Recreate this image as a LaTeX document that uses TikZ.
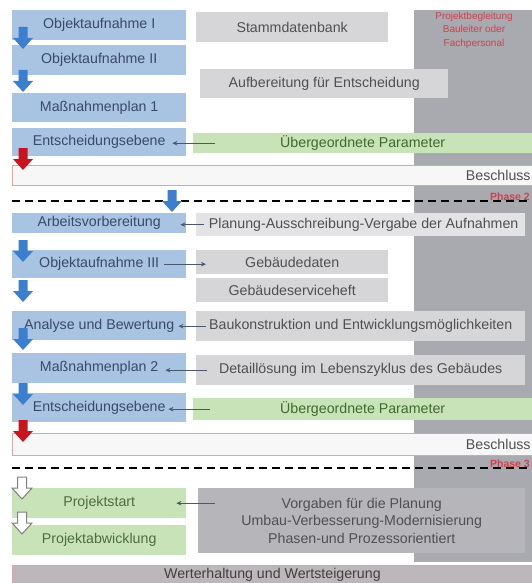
\documentclass[tikz,border=0pt]{standalone}
\usepackage{fontspec}
\setmainfont{Liberation Sans}
\usetikzlibrary{arrows.meta}

\definecolor{boxblue}{HTML}{A9C3E3}
\definecolor{bluetext}{HTML}{3A4A68}
\definecolor{arrowblue}{HTML}{3D7FCF}
\definecolor{boxgray}{HTML}{D6D6D8}
\definecolor{lightgray}{HTML}{E3E3E5}
\definecolor{darkgray}{HTML}{B6B6BA}
\definecolor{columngray}{HTML}{A8AAAF}
\definecolor{graytext}{HTML}{505050}
\definecolor{boxgreen}{HTML}{C9E3B8}
\definecolor{greentext}{HTML}{3E6A2E}
\definecolor{arrowred}{HTML}{C8141E}
\definecolor{pinkline}{HTML}{E2A0A8}
\definecolor{redtext}{HTML}{D0404E}
\definecolor{connline}{HTML}{4A5870}

\tikzset{
  blockarrow/.pic={
    \path[pic actions] (-4.5,0) -- (4.5,0) -- (4.5,11) -- (10,11) -- (0,22)
      -- (-10,11) -- (-4.5,11) -- cycle;
  }
}

\begin{document}
\begin{tikzpicture}[x=1pt,y=-1pt,
    box/.style={anchor=north west, inner sep=0pt, font=\fontsize{14.2}{16}\selectfont},
    bluebox/.style={box, fill=boxblue, text=bluetext, minimum width=174pt},
    graybox/.style={box, fill=boxgray, text=graytext},
    greenbox/.style={box, fill=boxgreen, text=greentext},
    bar/.style={box, draw=pinkline, line width=0.8pt, minimum width=520pt},
    conn/.style={connline, line width=0.9pt, -{Stealth[length=5pt,width=4.5pt]}},
    sepline/.style={black, line width=1.8pt, dash pattern=on 8pt off 5pt},
    phaselabel/.style={anchor=east, inner sep=0pt, text=redtext, font=\fontsize{10.5}{11}\selectfont\bfseries}
]

    % Page and the grey column on the right
    \useasboundingbox (0,0) rectangle (532,583);
    \fill[columngray] (414,10) rectangle (532,562);
    \node[align=center, text=redtext, inner sep=0pt, font=\fontsize{10}{13.5}\selectfont]
        (team) at (474,30) {Projektbegleitung\\Bauleiter oder\\Fachpersonal};

    % First phase
    \node[bluebox, minimum height=30pt] (objI)  at (12,10)  {Objektaufnahme I};
    \node[bluebox, minimum height=30pt] (objII) at (12,45)  {Objektaufnahme II};
    \node[bluebox, minimum height=29pt] (mnpI)  at (12,93)  {Maßnahmenplan 1};
    \node[bluebox, minimum height=28pt] (entI)  at (12,128) {Entscheidungsebene};
    \node[graybox, minimum width=192pt, minimum height=30pt] (stamm) at (196,12) {Stammdatenbank};
    \node[graybox, minimum width=248pt, minimum height=29pt] (aufb)  at (200,69) {Aufbereitung für Entscheidung};
    \node[greenbox, minimum width=339pt, minimum height=20pt] (paramI) at (193,133) {Übergeordnete Parameter};
    \draw[conn] ([xshift=22pt]paramI.west) -- ([xshift=-14pt]entI.east |- paramI.west);

    \node[bar, fill=white!94!gray, minimum height=20pt] (beschlI) at (12,165) {};
    \node[anchor=east, inner sep=0pt, text=graytext, font=\fontsize{14.2}{16}\selectfont]
        (beschlItxt) at ([xshift=-2pt]beschlI.east) {Beschluss};

    \draw[sepline] (12,201) -- (532,201);
    \node[phaselabel] (phaseII) at (530,197) {Phase 2};

    % Second phase
    \node[bluebox, minimum height=20pt] (arbeit)  at (12,213) {Arbeitsvorbereitung};
    \node[bluebox, minimum height=28pt] (objIII)  at (12,250) {Objektaufnahme III};
    \node[bluebox, minimum height=29pt] (analyse) at (12,311) {Analyse und Bewertung};
    \node[bluebox, minimum height=30pt] (mnpII)   at (12,353) {Maßnahmenplan 2};
    \node[bluebox, minimum height=29pt] (entII)   at (12,393) {Entscheidungsebene};

    \node[graybox, fill=lightgray, minimum width=329pt, minimum height=23pt] (planung) at (196,213)
        {\hspace*{6pt}Planung-Ausschreibung-Vergabe der Aufnahmen};
    \node[graybox, minimum width=192pt, minimum height=24pt] (gebd) at (196,250) {Gebäudedaten};
    \node[graybox, minimum width=192pt, minimum height=24pt] (gebs) at (196,278) {Gebäudeserviceheft};
    \node[graybox, minimum width=329pt, minimum height=30pt] (bauk) at (196,311)
        {Baukonstruktion und Entwicklungsmöglichkeiten};
    \node[graybox, minimum width=329pt, minimum height=30pt] (detail) at (196,355)
        {Detaillösung im Lebenszyklus des Gebäudes};
    \node[greenbox, minimum width=339pt, minimum height=22pt] (paramII) at (193,398) {Übergeordnete Parameter};

    \draw[conn] ([xshift=8pt]planung.west) -- ([xshift=-6pt]arbeit.east |- planung.west);
    \draw[conn] ([xshift=-22pt]objIII.east) -- ([xshift=10pt]gebd.west |- objIII.east);
    \draw[conn] ([xshift=10pt]bauk.west) -- ([xshift=-8pt]analyse.east |- bauk.west);
    \draw[conn] ([xshift=11pt]detail.west) -- ([xshift=-21pt]mnpII.east |- detail.west);
    \draw[conn] ([xshift=17pt]paramII.west) -- ([xshift=-18pt]entII.east |- paramII.west);

    \node[bar, fill=white!94!gray, minimum height=22pt] (beschlII) at (12,433) {};
    \node[anchor=east, inner sep=0pt, text=graytext, font=\fontsize{14.2}{16}\selectfont]
        (beschlIItxt) at ([xshift=-2pt]beschlII.east) {Beschluss};

    \draw[sepline] (12,468) -- (532,468);
    \node[phaselabel] (phaseIII) at (530,464) {Phase 3};

    % Third phase
    \node[greenbox, text=greentext!80!gray, minimum width=174pt, minimum height=30pt] (start) at (12,488) {Projektstart};
    \node[greenbox, text=greentext!80!gray, minimum width=174pt, minimum height=30pt] (abw)   at (12,525) {Projektabwicklung};
    \node[graybox, fill=darkgray, align=center, minimum width=327pt, minimum height=65pt,
        font=\fontsize{14.2}{17.5}\selectfont] (vorgaben) at (198,488)
        {Vorgaben für die Planung\\Umbau-Verbesserung-Modernisierung\\Phasen-und Prozessorientiert};
    \draw[conn] ([xshift=17pt]vorgaben.west |- start.east) -- ([xshift=-10pt]start.east);

    \node[bar, fill=darkgray!90!pink, text=black!75, minimum height=18pt] (wert) at (12,565)
        {Werterhaltung und Wertsteigerung};

    % Block arrows along the left side
    \def\blueArrowTops{27,70,240,280,328,383}
    \foreach \y in \blueArrowTops {
        \pic[fill=arrowblue] at (23,\y) {blockarrow};
    }
    \pic[fill=arrowblue] at (172,190) {blockarrow};
    \foreach \y in {148,420} {
        \pic[fill=arrowred] at (23,\y) {blockarrow};
    }
    \foreach \y in {477,512} {
        \pic[fill=white, draw=gray, line width=1pt] at (22,\y) {blockarrow};
    }

\end{tikzpicture}
\end{document}
